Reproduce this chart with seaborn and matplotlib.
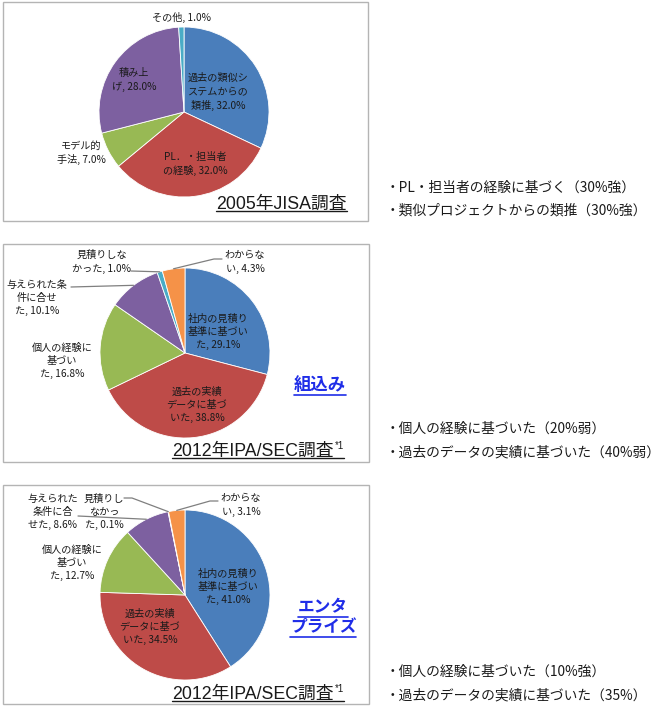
import numpy as np
import matplotlib
matplotlib.use("Agg")
import matplotlib.pyplot as plt
import seaborn as sns
from matplotlib.patches import Rectangle

sns.set_theme(style="white")
plt.rcParams['font.family'] = ['Noto Sans CJK JP', 'DejaVu Sans']

# ---------------- data ----------------
cats_2005 = ["過去の類似シ\nステムからの\n類推", "PL．・担当者\nの経験", "モデル的\n手法", "積み上\nげ", "その他"]
vals_2005 = [32.0, 32.0, 7.0, 28.0, 1.0]

cats_emb = ["社内の見積り\n基準に基づい\nた", "過去の実績\nデータに基づ\nいた", "個人の経験に\n基づい\nた",
            "与えられた条\n件に合せ\nた", "見積りしな\nかった", "わからな\nい"]
vals_emb = [29.1, 38.8, 16.8, 10.1, 1.0, 4.3]

cats_ent = ["社内の見積り\n基準に基づい\nた", "過去の実績\nデータに基づ\nいた", "個人の経験に\n基づい\nた",
            "与えられた\n条件に合\nせた", "見積りし\nなかっ\nた", "わからな\nい"]
vals_ent = [41.0, 34.5, 12.7, 8.6, 0.1, 3.1]

titles = ["2005年JISA調査", "2012年IPA/SEC調査", "2012年IPA/SEC調査"]
segments = ["", "組込み", "エンタ\nプライズ"]

notes_2005 = ["・PL・担当者の経験に基づく（30%強）", "・類似プロジェクトからの類推（30%強）"]
notes_emb = ["・個人の経験に基づいた（20%弱）", "・過去のデータの実績に基づいた（40%弱）"]
notes_ent = ["・個人の経験に基づいた（10%強）", "・過去のデータの実績に基づいた（35%）"]

palette = sns.color_palette(["#4A7EBB", "#BE4B48", "#98B954", "#7D60A0", "#4AACC6", "#F59248"])

# ---------------- figure ----------------
W, H = 670, 707
fig = plt.figure(figsize=(W / 100, H / 100), dpi=100)
ax = fig.add_axes([0, 0, 1, 1])

LABEL_FS = 7.3
LINE_C = "#7f7f7f"


def draw_pie(vals, center, r):
    wedges, _ = ax.pie(vals, colors=palette[:len(vals)], startangle=-90, counterclock=True,
                       center=center, radius=r,
                       wedgeprops=dict(edgecolor="white", linewidth=0.6))
    return wedges


def mid_edge(w, center, r):
    th = np.deg2rad((w.theta1 + w.theta2) / 2)
    return center[0] + r * np.cos(th), center[1] + r * np.sin(th)


def lab(cat, v):
    return f"{cat}, {v:.1f}%"


R = 85
# panel boxes
for (x0, y0, x1, y1) in [(3, 2, 368, 221), (3, 244, 369, 462), (3, 485, 369, 704)]:
    ax.add_patch(Rectangle((x0, y0), x1 - x0, y1 - y0, fill=False, edgecolor="#b4b4b4", lw=1.0))

# ---- panel 1 ----
c1 = (184, 112)
w1 = draw_pie(vals_2005, c1, R)
pos1 = [(218, 92), (195, 164), (81, 153), (134, 80), (182, 17)]
for cat, v, p in zip(cats_2005, vals_2005, pos1):
    ax.text(p[0], p[1], lab(cat, v), ha="center", va="center", fontsize=LABEL_FS,
            linespacing=1.4, color="#1a1a1a")

# ---- panel 2 ----
c2 = (185, 353)
w2 = draw_pie(vals_emb, c2, R)
pos2 = [(218, 332), (197, 405), (62, 361), (37, 298), (102, 262), (245, 262)]
for cat, v, p in zip(cats_emb, vals_emb, pos2):
    ax.text(p[0], p[1], lab(cat, v), ha="center", va="center", fontsize=LABEL_FS,
            linespacing=1.4, color="#1a1a1a")
leader2 = {3: [(71, 287)], 4: [(131, 271)], 5: [(222, 259), (214, 259)]}
for i, pts in leader2.items():
    e = mid_edge(w2[i], c2, R)
    xs = [p[0] for p in pts] + [e[0]]
    ys = [p[1] for p in pts] + [e[1]]
    ax.plot(xs, ys, color=LINE_C, lw=0.9)

# ---- panel 3 ----
c3 = (185, 595)
w3 = draw_pie(vals_ent, c3, R)
pos3 = [(228, 587), (150, 627), (72, 563), (53, 512), (104, 512), (241, 505)]
for cat, v, p in zip(cats_ent, vals_ent, pos3):
    ax.text(p[0], p[1], lab(cat, v), ha="center", va="center", fontsize=LABEL_FS,
            linespacing=1.4, color="#1a1a1a")
leader3 = {3: [(78, 516)], 4: [(124, 498), (132, 498)], 5: [(218, 501), (210, 501)]}
for i, pts in leader3.items():
    e = mid_edge(w3[i], c3, R)
    xs = [p[0] for p in pts] + [e[0]]
    ys = [p[1] for p in pts] + [e[1]]
    ax.plot(xs, ys, color=LINE_C, lw=0.9)

ax.set_xlim(0, W)
ax.set_ylim(H, 0)
ax.set_aspect("auto")
ax.axis("off")

# ---- titles ----
TFAM = ["Liberation Sans", "Noto Sans CJK JP"]
t1 = ax.text(216, 209, titles[0], ha="left", va="baseline", fontsize=12.8, family=TFAM, color="#1a1a1a")
t2 = ax.text(172, 456, titles[1], ha="left", va="baseline", fontsize=12.8, family=TFAM, color="#1a1a1a")
t3 = ax.text(172, 699, titles[2], ha="left", va="baseline", fontsize=12.8, family=TFAM, color="#1a1a1a")

seg1 = ax.text(320, 385, segments[1], ha="center", va="center", fontsize=12.5, fontweight="bold",
               color="#1f2de8")
seg2a = ax.text(323, 607, segments[2].split("\n")[0], ha="center", va="center", fontsize=12,
                fontweight="bold", color="#1f2de8")
seg2b = ax.text(323, 627, segments[2].split("\n")[1], ha="center", va="center", fontsize=12,
                fontweight="bold", color="#1f2de8")

# notes on the right
for notes, ys in [(notes_2005, (188, 211)), (notes_emb, (429, 452)), (notes_ent, (672, 695))]:
    for s, y in zip(notes, ys):
        ax.text(386, y, s, ha="left", va="center", fontsize=9.9, color="#1a1a1a")

fig.canvas.draw()
renderer = fig.canvas.get_renderer()
inv = ax.transData.inverted()


def extent(t):
    bb = t.get_window_extent(renderer)
    (x0, ya), (x1, yb) = inv.transform([[bb.x0, bb.y0], [bb.x1, bb.y1]])
    return x0, x1, ya, yb


# superscripts
sups = []
for t, base in [(t2, 456), (t3, 699)]:
    x0, x1, _, _ = extent(t)
    s = ax.text(x1 + 1, base - 7, "*1", ha="left", va="baseline", fontsize=7, family=TFAM, color="#1a1a1a")
    sups.append(s)
fig.canvas.draw()

# underlines
for t, base, extra in [(t1, 209, None), (t2, 456, sups[0]), (t3, 699, sups[1])]:
    x0, x1, _, _ = extent(t)
    if extra is not None:
        x1 = extent(extra)[1]
    ax.plot([x0, x1], [base + 2, base + 2], color="#1a1a1a", lw=1.0)

for t in [seg1, seg2a, seg2b]:
    x0, x1, ybot, ytop = extent(t)
    ax.plot([x0, x1], [ybot + 1, ybot + 1], color="#1f2de8", lw=1.2)

ax.set_xlim(0, W)
ax.set_ylim(H, 0)
fig.savefig("out.png", dpi=100)
